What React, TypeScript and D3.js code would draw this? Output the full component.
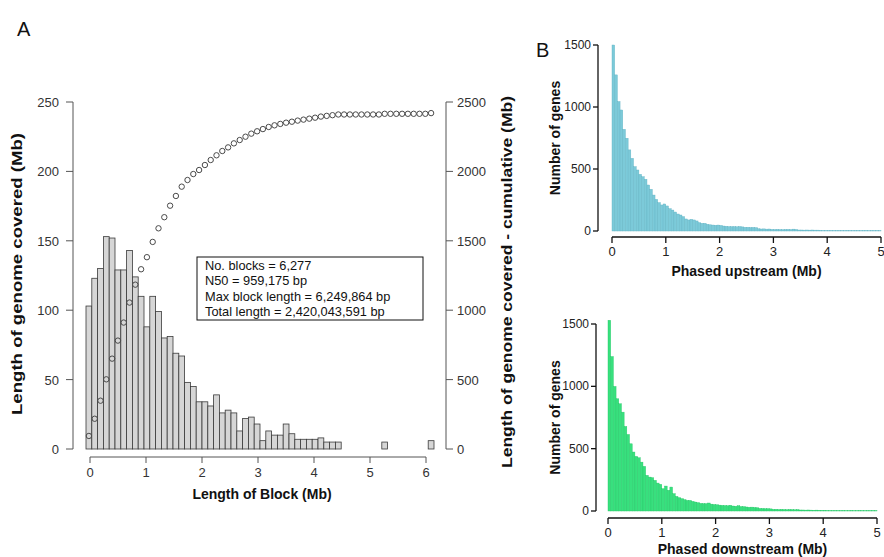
import { scaleBand, scaleLinear, range } from "d3";

const width = 884;
const height = 557;
const FONT = "'Liberation Sans', Arial, sans-serif";

// Panel A: block length histogram (Mb covered per bin) and cumulative points
const blockCovered = [
  103, 123, 130, 153, 152, 129, 129, 143, 124, 110,
  88, 110, 99, 80, 81, 69, 67, 48, 45, 34,
  34, 31, 39, 26, 28, 26, 13, 22, 23, 18,
  6, 13, 10, 10, 18, 11, 7, 7, 7, 7,
  8, 5, 5, 5, 0, 0, 0, 0, 0, 0,
  0, 5, 0, 0, 0, 0, 0, 0, 0, 6,
];
const blockCumulative = [
  94, 218, 348, 502, 651, 781, 911, 1055, 1184, 1295,
  1382, 1492, 1590, 1670, 1753, 1823, 1890, 1938, 1981, 2010,
  2046, 2082, 2116, 2147, 2173, 2202, 2226, 2250, 2272, 2289,
  2305, 2320, 2332, 2342, 2351, 2358, 2366, 2373, 2380, 2387,
  2395, 2400, 2405, 2410, 2410, 2410, 2410, 2410, 2410, 2410,
  2410, 2415, 2415, 2415, 2415, 2415, 2415, 2415, 2415, 2420,
];
const blockTicksX = [0, 1, 2, 3, 4, 5, 6];
const blockTicksY = [0, 50, 100, 150, 200, 250];
const blockTicksY2 = [0, 500, 1000, 1500, 2000, 2500];
const statLines = [
  "No. blocks = 6,277",
  "N50 = 959,175 bp",
  "Max block length = 6,249,864 bp",
  "Total length = 2,420,043,591 bp",
];

// Panel B: phased distance histograms, 0.05 Mb bins
const binMb = 0.05;
const upstream = [
  1500, 1259, 1044, 976, 820, 748, 654, 586, 519, 492,
  457, 438, 417, 371, 336, 290, 255, 229, 210, 218,
  202, 180, 169, 153, 137, 129, 116, 97, 89, 94,
  89, 81, 67, 62, 62, 54, 50, 48, 46, 48,
  45, 40, 38, 36, 35, 35, 34, 36, 33, 30,
  30, 28, 29, 27, 18, 16, 17, 15, 16, 13,
  12, 13, 12, 11, 12, 13, 12, 15, 12, 8,
  8, 7, 8, 7, 8, 7, 7, 4, 3, 3,
  2, 3, 3, 2, 3, 3, 2, 3, 3, 2,
  2, 3, 2, 2, 3, 2, 2, 2, 3, 2,
];
const downstream = [
  1530, 1239, 999, 900, 860, 793, 678, 614, 539, 473,
  438, 427, 392, 358, 286, 272, 267, 246, 224, 214,
  179, 200, 166, 192, 139, 117, 107, 99, 91, 85,
  85, 77, 72, 67, 61, 59, 59, 64, 55, 52,
  50, 47, 45, 44, 42, 46, 40, 38, 42, 36,
  35, 32, 30, 31, 28, 26, 21, 20, 18, 19,
  17, 13, 14, 12, 13, 12, 11, 12, 11, 10,
  11, 8, 8, 7, 8, 7, 6, 7, 6, 5,
  5, 3, 3, 2, 3, 3, 2, 3, 2, 2,
  3, 2, 2, 3, 2, 2, 2, 2, 3, 2,
];
const phasedTicksX = [0, 1, 2, 3, 4, 5];
const phasedTicksY = [0, 500, 1000, 1500];

function PhasedHist({ values, fill, edge, x0, x1, yBase, yTop, axisX, axisY, title, titleY }) {
  const x = scaleLinear().domain([0, 5]).range([x0, x1]);
  const y = scaleLinear().domain([0, 1500]).range([yBase, yTop]);
  return (
    <g>
      {values.map((v, i) => (
        <rect key={i}
          x={x(i * binMb)}
          y={y(v)}
          width={x((i + 1) * binMb) - x(i * binMb)}
          height={yBase - y(v)}
          fill={fill}
          stroke={edge}
          strokeWidth={0.4}
        />
      ))}
      <line x1={axisX} x2={axisX} y1={y(0)} y2={y(1500)} stroke="#111" strokeWidth={1.3} />
      {phasedTicksY.map((t) => (
        <g key={t}>
          <line x1={axisX - 5} x2={axisX} y1={y(t)} y2={y(t)} stroke="#111" strokeWidth={1.3} />
          <text x={axisX - 7} y={y(t) + 4} textAnchor="end" fontSize={12} fill="#222">{t}</text>
        </g>
      ))}
      <line x1={x(0)} x2={x(5)} y1={axisY} y2={axisY} stroke="#111" strokeWidth={1.3} />
      {phasedTicksX.map((t) => (
        <g key={t}>
          <line x1={x(t)} x2={x(t)} y1={axisY} y2={axisY + 6} stroke="#111" strokeWidth={1.3} />
          <text x={x(t)} y={axisY + 19} textAnchor="middle" fontSize={13} fill="#222">{t}</text>
        </g>
      ))}
      <text x={(x0 + x1) / 2} y={titleY} textAnchor="middle" fontSize={14} fontWeight="bold" fill="#111">
        {title}
      </text>
      <text transform={`translate(556,${(yBase + yTop) / 2}) rotate(-90)`} textAnchor="middle"
        dominantBaseline="middle" fontSize={14} fontWeight="bold" fill="#111">
        Number of genes
      </text>
    </g>
  );
}

export default function App() {
  const xBand = scaleBand().domain(range(blockCovered.length)).range([86, 434]).padding(0);
  const xA = scaleLinear().domain([0, 6]).range([90, 426]);
  const yA = scaleLinear().domain([0, 250]).range([449, 102]);
  const yA2 = scaleLinear().domain([0, 2500]).range([449, 102]);
  const axisCol = "#555";

  return (
    <svg width={width} height={height} viewBox={`0 0 ${width} ${height}`}
      style={{ position: "absolute", left: 0, top: 0, background: "#fff" }} fontFamily={FONT}>
      <rect width={width} height={height} fill="#fff" />

      {/* Panel A */}
      <text x={17} y={36} fontSize={20} fill="#111">A</text>
      {blockCovered.map((v, i) => (
        <rect key={i}
          x={xBand(i)}
          y={yA(v)}
          width={xBand.bandwidth()}
          height={yA(0) - yA(v)}
          fill="#d6d6d6"
          stroke="#3a3a3a"
          strokeWidth={0.8}
        />
      ))}
      {blockCumulative.map((v, i) => (
        <circle key={i} cx={xBand(i) + xBand.bandwidth() / 2} cy={yA2(v)} r={2.7}
          fill="none" stroke="#4a4a4a" strokeWidth={1} />
      ))}

      {/* left axis */}
      <line x1={73} x2={73} y1={yA(0)} y2={yA(250)} stroke={axisCol} />
      {blockTicksY.map((t) => (
        <g key={t}>
          <line x1={66} x2={73} y1={yA(t)} y2={yA(t)} stroke={axisCol} />
          <text x={59} y={yA(t) + 5} textAnchor="end" fontSize={13} fill="#333">{t}</text>
        </g>
      ))}
      {/* right axis */}
      <line x1={446} x2={446} y1={yA2(0)} y2={yA2(2500)} stroke={axisCol} />
      {blockTicksY2.map((t) => (
        <g key={t}>
          <line x1={446} x2={453} y1={yA2(t)} y2={yA2(t)} stroke={axisCol} />
          <text x={457} y={yA2(t) + 5} textAnchor="start" fontSize={13} fill="#333">{t}</text>
        </g>
      ))}
      {/* bottom axis */}
      <line x1={xA(0)} x2={xA(6)} y1={457} y2={457} stroke={axisCol} />
      {blockTicksX.map((t) => (
        <g key={t}>
          <line x1={xA(t)} x2={xA(t)} y1={457} y2={463} stroke={axisCol} />
          <text x={xA(t)} y={477} textAnchor="middle" fontSize={13} fill="#333">{t}</text>
        </g>
      ))}

      <text transform="translate(18,274) rotate(-90)" textAnchor="middle" dominantBaseline="middle"
        fontSize={14} fontWeight="bold" fill="#111" textLength={282} lengthAdjust="spacingAndGlyphs">
        Length of genome covered (Mb)
      </text>
      <text transform="translate(508,282) rotate(-90)" textAnchor="middle" dominantBaseline="middle"
        fontSize={14} fontWeight="bold" fill="#111" textLength={372} lengthAdjust="spacingAndGlyphs">
        Length of genome covered - cumulative (Mb)
      </text>
      <text x={262} y={499} textAnchor="middle" fontSize={14} fontWeight="bold" fill="#111">
        Length of Block (Mb)
      </text>

      <rect x={197} y={257} width={226} height={63} fill="#fff" stroke="#111" strokeWidth={1} />
      {statLines.map((s, i) => (
        <text key={i} x={205} y={269.5 + i * 15.5} fontSize={12.8} fill="#111">{s}</text>
      ))}

      {/* Panel B */}
      <text x={536} y={57} fontSize={20} fill="#111">B</text>
      <PhasedHist values={upstream} fill="#7ccad9" edge="#62b3c4"
        x0={612} x1={881} yBase={231} yTop={45} axisX={598} axisY={237}
        title="Phased upstream (Mb)" titleY={276} />
      <PhasedHist values={downstream} fill="#38e07e" edge="#25c767"
        x0={608} x1={877} yBase={511} yTop={324} axisX={596} axisY={518}
        title="Phased downstream (Mb)" titleY={554} />
    </svg>
  );
}
